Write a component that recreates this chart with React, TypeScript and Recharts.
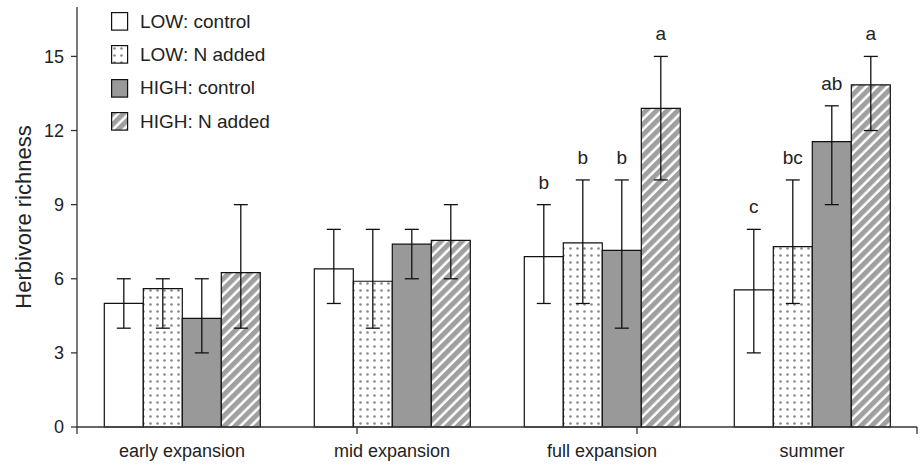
import React from 'react';
import { BarChart, Bar, XAxis, YAxis, ErrorBar, LabelList } from 'recharts';

const categories = ['early expansion', 'mid expansion', 'full expansion', 'summer'];

const lowControl = [5.0, 6.4, 6.9, 5.55];
const lowControlLo = [4, 5, 5, 3];
const lowControlHi = [6, 8, 9, 8];

const lowN = [5.6, 5.9, 7.45, 7.3];
const lowNLo = [4, 4, 5, 5];
const lowNHi = [6, 8, 10, 10];

const highControl = [4.4, 7.4, 7.15, 11.55];
const highControlLo = [3, 6, 4, 9];
const highControlHi = [6, 8, 10, 13];

const highN = [6.25, 7.55, 12.9, 13.85];
const highNLo = [4, 6, 10, 12];
const highNHi = [9, 9, 15, 15];

const lowControlLetters = ['', '', 'b', 'c'];
const lowNLetters = ['', '', 'b', 'bc'];
const highControlLetters = ['', '', 'b', 'ab'];
const highNLetters = ['', '', 'a', 'a'];

const yTicks = [0, 3, 6, 9, 12, 15];
const boundaryTicks = [0, 1, 2, 3, 4];

const series = [
  { key: 'lc', name: 'LOW: control', values: lowControl, lo: lowControlLo, hi: lowControlHi, letters: lowControlLetters, fill: '#ffffff' },
  { key: 'ln', name: 'LOW: N added', values: lowN, lo: lowNLo, hi: lowNHi, letters: lowNLetters, fill: 'url(#dots)' },
  { key: 'hc', name: 'HIGH: control', values: highControl, lo: highControlLo, hi: highControlHi, letters: highControlLetters, fill: '#999999' },
  { key: 'hn', name: 'HIGH: N added', values: highN, lo: highNLo, hi: highNHi, letters: highNLetters, fill: 'url(#hatch)' },
];

const data = categories.map((name, i) => {
  const row: any = { name };
  series.forEach((s) => {
    row[s.key] = s.values[i];
    row[s.key + 'Err'] = [s.values[i] - s.lo[i], s.hi[i] - s.values[i]];
    row[s.key + 'Letter'] = s.letters[i];
  });
  return row;
});

const FONT = '"Liberation Sans", Arial, Helvetica, sans-serif';

const Patterns = ({ suffix = '' }: { suffix?: string }) => (
  <defs>
    <pattern id={'dots' + suffix} width="7" height="7" patternUnits="userSpaceOnUse">
      <rect width="7" height="7" fill="#ffffff" />
      <circle cx="3.5" cy="3.5" r="1.3" fill="#888888" />
    </pattern>
    <pattern id={'hatch' + suffix} width="7.5" height="7.5" patternUnits="userSpaceOnUse" patternTransform="rotate(45)">
      <rect width="7.5" height="7.5" fill="#ffffff" />
      <rect width="5" height="7.5" fill="#a0a0a0" />
    </pattern>
  </defs>
);

const makeLetterLabel = (s: (typeof series)[number]) => (props: any) => {
  const { x, y, width, height, value, index } = props;
  if (!value) return null;
  const v = s.values[index];
  const perUnit = height / v;
  const yHigh = y + height - s.hi[index] * perUnit;
  return (
    <text x={x + width / 2} y={yHigh - 16} textAnchor="middle" fontSize={19} fontFamily={FONT} fill="#222">
      {value}
    </text>
  );
};

const YLabel = (props: any) => {
  const { viewBox } = props;
  const cx = viewBox.x + 23;
  const cy = viewBox.y + viewBox.height / 2;
  return (
    <text x={cx} y={cy} transform={`rotate(-90, ${cx}, ${cy})`} textAnchor="middle" dominantBaseline="central" fontSize={22} fontFamily={FONT} fill="#222">
      Herbivore richness
    </text>
  );
};

const Legend = () => (
  <div style={{ position: 'absolute', left: 111, top: 12, fontFamily: FONT, fontSize: 19, color: '#222' }}>
    <svg width="0" height="0" style={{ position: 'absolute' }}>
      <Patterns suffix="L" />
    </svg>
    {series.map((s) => (
      <div key={s.key} style={{ display: 'flex', alignItems: 'center', height: 33.3 }}>
        <svg width="18" height="19" style={{ marginTop: -14 }}>
          <rect x="0.6" y="0.6" width="16" height="17.5" fill={s.fill.startsWith('url') ? s.fill.replace(')', 'L)') : s.fill} stroke="#111" strokeWidth="1.2" />
        </svg>
        <span style={{ marginLeft: 11, marginTop: -14 }}>{s.name}</span>
      </div>
    ))}
  </div>
);

export default function App() {
  return (
    <div style={{ position: 'absolute', left: 0, top: 0, width: 922, height: 465, background: '#fff' }}>
      <BarChart
        width={922}
        height={465}
        data={data}
        margin={{ top: 7, right: 5, left: 0, bottom: 0 }}
        barCategoryGap="13%"
        barGap={0}
      >
        <Patterns />
        <XAxis
          xAxisId="cat"
          dataKey="name"
          height={38}
          axisLine={false}
          tickLine={false}
          tickSize={8}
          tickMargin={9}
          interval={0}
          tick={{ fontSize: 18, fontFamily: FONT, fill: '#222' }}
        />
        <XAxis
          xAxisId="num"
          type="number"
          domain={[0, 4]}
          ticks={boundaryTicks}
          mirror
          height={1}
          tickFormatter={() => ''}
          tickSize={-7}
          axisLine={{ stroke: '#333', strokeWidth: 1.3 }}
          tickLine={{ stroke: '#333', strokeWidth: 1.3 }}
          allowDataOverflow
        />
        <YAxis
          domain={[0, 17]}
          ticks={yTicks}
          width={77}
          tickSize={6}
          tickMargin={7}
          axisLine={{ stroke: '#333', strokeWidth: 1.3 }}
          tickLine={{ stroke: '#333', strokeWidth: 1.3 }}
          tick={{ fontSize: 18, fontFamily: FONT, fill: '#222' }}
          label={<YLabel />}
        />
        {series.map((s) => (
          <Bar
            key={s.key}
            xAxisId="cat"
            dataKey={s.key}
            name={s.name}
            fill={s.fill}
            stroke="#111"
            strokeWidth={1.2}
            isAnimationActive={false}
          >
            <ErrorBar dataKey={s.key + 'Err'} width={7} stroke="#111" strokeWidth={1.3} />
            <LabelList dataKey={s.key + 'Letter'} content={makeLetterLabel(s)} />
          </Bar>
        ))}
      </BarChart>
      <Legend />
    </div>
  );
}
